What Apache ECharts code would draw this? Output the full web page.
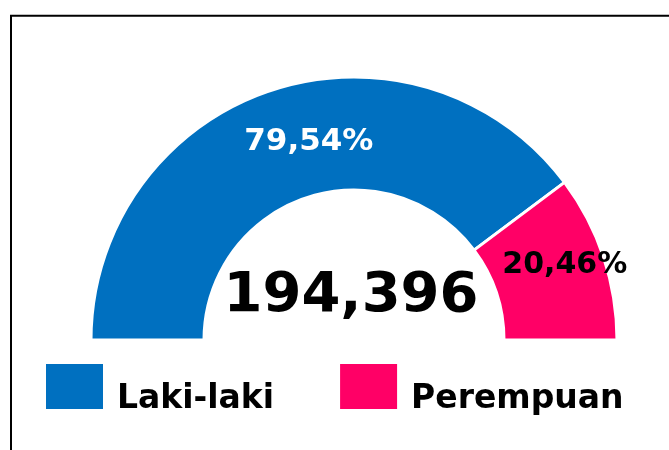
<!DOCTYPE html>
<html>
<head>
<meta charset="utf-8">
<script src="https://cdn.jsdelivr.net/npm/echarts@6/dist/echarts.min.js"></script>
<style>
  html, body { margin: 0; padding: 0; background: #fff; }
  #chart { width: 669px; height: 450px; }
</style>
</head>
<body>
<div id="chart"></div>
<script>
// data
const genderNames = ['Laki-laki', 'Perempuan']
const genderPercent = [79.54, 20.46]
const genderColors = ['#0070C0', '#FF0066']
const labelColors = ['#ffffff', '#000000']
const totalPeople = 194396

const FONT = '"DejaVu Sans", Verdana, sans-serif'

const chart = echarts.init(document.getElementById('chart'), null, { renderer: 'canvas' })

// label nudges so they sit where the original has them
const labelShift = [[21, 1], [12, -9]]

const option = {
  animation: false,
  backgroundColor: '#ffffff',
  legend: {
    left: 41,
    top: 359,
    icon: 'rect',
    itemWidth: 57,
    itemHeight: 45,
    itemGap: 66,
    selectedMode: false,
    data: genderNames,
    itemStyle: { borderWidth: 0 },
    // empty first line pushes the name below the middle of the swatch
    formatter: name => '{gap| }\n{t|' + name + '}',
    textStyle: {
      fontFamily: FONT,
      fontWeight: 'bold',
      fontSize: 33,
      color: '#000',
      rich: {
        gap: { fontSize: 1, lineHeight: 26 },
        t: {
          fontFamily: FONT,
          fontWeight: 'bold',
          fontSize: 33,
          lineHeight: 40,
          color: '#000',
          padding: [0, 0, 0, 9]
        }
      }
    }
  },
  graphic: {
    elements: [
      {
        type: 'rect',
        silent: true,
        shape: { x: 11, y: 15.7, width: 720, height: 520 },
        style: { fill: 'none', stroke: '#000', lineWidth: 2 }
      },
      {
        type: 'text',
        silent: true,
        x: 351,
        y: 296,
        style: {
          text: totalPeople.toLocaleString('en-US'),
          font: 'bold 56px ' + FONT,
          fill: '#000',
          align: 'center',
          verticalAlign: 'middle',
          textAlign: 'center',
          textVerticalAlign: 'middle'
        }
      }
    ]
  },
  series: [
    {
      type: 'pie',
      center: [354, 340],
      radius: [150, 263],
      startAngle: 180,
      endAngle: 0,
      clockwise: true,
      avoidLabelOverlap: false,
      emphasis: { disabled: true },
      itemStyle: { borderColor: '#ffffff', borderWidth: 3 },
      label: {
        show: true,
        position: 'inside',
        fontFamily: FONT,
        fontWeight: 'bold',
        fontSize: 31,
        formatter: p => p.value.toFixed(2).replace('.', ',') + '%'
      },
      labelLine: { show: false },
      labelLayout: p => ({ dx: labelShift[p.dataIndex][0], dy: labelShift[p.dataIndex][1] }),
      data: genderNames.map((n, i) => ({
        name: n,
        value: genderPercent[i],
        itemStyle: { color: genderColors[i] },
        label: { color: labelColors[i], fontSize: i === 0 ? 31 : 30 }
      }))
    }
  ]
}

chart.setOption(option)
</script>
</body>
</html>
